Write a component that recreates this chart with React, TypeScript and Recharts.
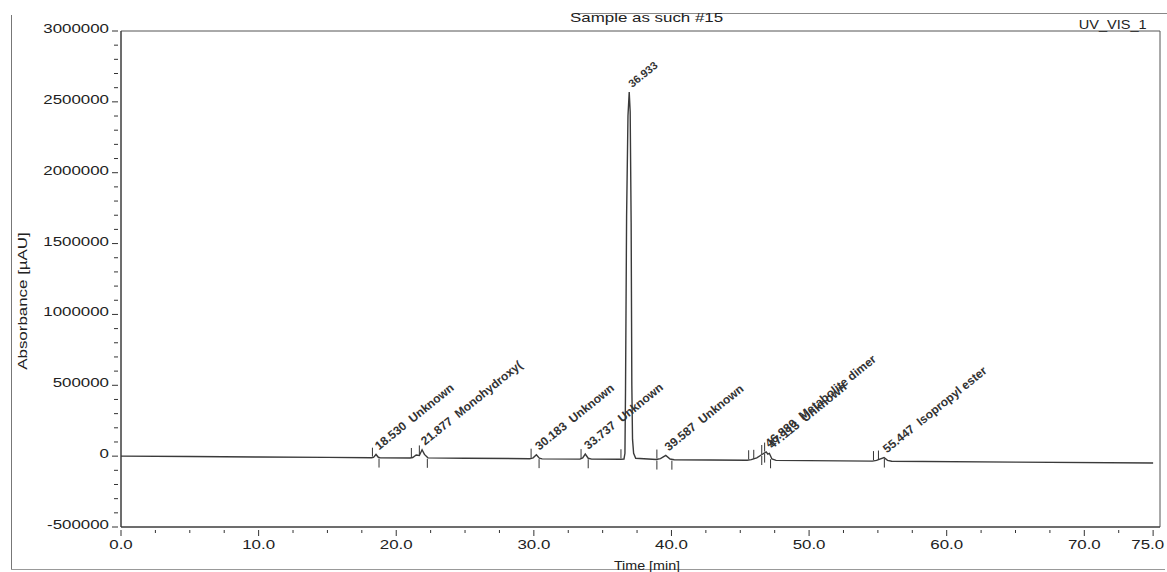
import { ComposedChart, Line, Scatter, XAxis, YAxis, ReferenceArea } from 'recharts';

// chromatogram trace (min, µAU)
const times = [
    0, 5, 10, 15, 18.2, 18.35, 18.53, 18.7, 18.85, 21.0, 21.2, 21.45, 21.68, 21.877, 22.05, 22.3,
    25, 29.7, 29.95, 30.183, 30.4, 30.6, 33.35, 33.55, 33.737, 33.95, 34.2, 36.3, 36.55, 36.62,
    36.66, 36.74, 36.84, 36.93, 37.0, 37.07, 37.12, 37.17, 37.25, 37.4, 38.9, 39.2, 39.587, 39.9,
    40.2, 45.5, 45.8, 46.2, 46.55, 46.88, 47.0, 47.113, 47.3, 47.6, 54.6, 54.9, 55.447, 55.7, 56,
    65, 75,
];
const absorbance = [
    0, -3000, -6000, -9000, -11000, -9000, 12000, -8000, -12000, -13000, -10000, 8000, 5000, 45000, 12000, -12000,
    -15000, -18000, -12000, 10000, -14000, -19000, -21000, -12000, 15000, -15000, -21000, -22000, -20000, 20000,
    450000, 1700000, 2400000, 2570000, 2430000, 1650000, 500000, 120000, 20000, -15000, -24000, -18000, 5000, -20000,
    -25000, -29000, -25000, -12000, 10000, 30000, 15000, 20000, -20000, -30000, -35000, -30000, -10000, -30000, -36000,
    -42000, -48000,
];

// peak annotations
const peakTimes = [18.53, 21.877, 30.183, 33.737, 36.933, 39.587, 46.88, 47.113, 55.447];
const peakLevels = [12000, 45000, 10000, 15000, 2570000, 5000, 30000, 20000, -10000];
const peakNames = [
    '18.530  Unknown',
    '21.877  Monohydroxy(',
    '30.183  Unknown',
    '33.737  Unknown',
    '36.933',
    '39.587  Unknown',
    '46.880  Metabolite dimer',
    '47.113  Unknown',
    '55.447  Isopropyl ester',
];

// integration markers (start above the trace, end below it)
const startTimes = [18.27, 21.1, 21.68, 29.8, 33.43, 36.33, 38.94, 45.61, 45.98, 46.56, 46.77, 54.68, 55.04];
const startLevels = [-11000, -13000, 5000, -18000, -21000, -22000, -24000, -29000, -26000, 8000, 25000, -35000, -31000];
const endTimes = [18.75, 22.26, 30.38, 33.95, 38.94, 40.03, 46.56, 46.77, 47.2, 55.47];
const endLevels = [-10000, -12000, -14000, -15000, -24000, -25000, 8000, 25000, -15000, -10000];

const xTicks = [
    0, 2.5, 5, 7.5, 10, 12.5, 15, 17.5, 20, 22.5, 25, 27.5, 30, 32.5, 35, 37.5,
    40, 42.5, 45, 47.5, 50, 52.5, 55, 57.5, 60, 62.5, 65, 67.5, 70, 72.5, 75,
];
const xLabelled = [0, 10, 20, 30, 40, 50, 60, 70, 75];
const yTicks = [
    -500000, -400000, -300000, -200000, -100000, 0, 100000, 200000, 300000, 400000, 500000,
    600000, 700000, 800000, 900000, 1000000, 1100000, 1200000, 1300000, 1400000, 1500000,
    1600000, 1700000, 1800000, 1900000, 2000000, 2100000, 2200000, 2300000, 2400000, 2500000,
    2600000, 2700000, 2800000, 2900000, 3000000,
];
const yLabelled = [-500000, 0, 500000, 1000000, 1500000, 2000000, 2500000, 3000000];

const FONT = '"Liberation Sans", Arial, sans-serif';
const INK = '#333';

// the scan is stretched sideways, so the axis text is too
const XTick = ({ x, y, payload }: any) => {
    const major = xLabelled.includes(payload.value);
    const last = payload.value === 75;
    return (
        <g>
            <line x1={x} x2={x} y1={y + 3} y2={y + (major ? 9 : 6)} stroke={INK} />
            {major && (
                <text
                    transform={`translate(${last ? x + 11 : x}, ${y + 22}) scale(1.3, 1)`}
                    textAnchor={last ? 'end' : 'middle'}
                    fontSize={13}
                    fill="#222"
                    fontFamily={FONT}
                >
                    {payload.value.toFixed(1)}
                </text>
            )}
        </g>
    );
};

const YTick = ({ x, y, payload }: any) => {
    const major = yLabelled.includes(payload.value);
    return (
        <g>
            <line x1={x - (major ? 9 : 7)} x2={x - 3} y1={y} y2={y} stroke={INK} />
            {major && (
                <text
                    transform={`translate(${x - 12}, ${y + 2}) scale(1.3, 1)`}
                    textAnchor="end"
                    fontSize={13}
                    fill="#222"
                    fontFamily={FONT}
                >
                    {payload.value}
                </text>
            )}
        </g>
    );
};

const PeakLabel = ({ cx, cy, payload }: any) => {
    const small = !payload.name.includes(' ');
    return (
        <text
            x={cx + 3}
            y={cy - 4}
            transform={`rotate(-39, ${cx + 3}, ${cy - 4})`}
            fontSize={small ? 11 : 12}
            fontWeight="bold"
            fill={INK}
            fontFamily={FONT}
            style={{ whiteSpace: 'pre' }}
        >
            {payload.name}
        </text>
    );
};

const StartMark = ({ cx, cy }: any) => <line x1={cx} x2={cx} y1={cy - 10} y2={cy - 1} stroke={INK} />;
const EndMark = ({ cx, cy }: any) => <line x1={cx} x2={cx} y1={cy + 1} y2={cy + 10} stroke={INK} />;

export default function App() {
    const trace = times.map((t, i) => ({ t, v: absorbance[i] }));
    const peaks = peakTimes.map((t, i) => ({ t, v: peakLevels[i], name: peakNames[i] }));
    const starts = startTimes.map((t, i) => ({ t, v: startLevels[i] }));
    const ends = endTimes.map((t, i) => ({ t, v: endLevels[i] }));

    return (
        <div style={{ position: 'absolute', left: 0, top: 0, width: 1167, height: 572, background: '#fff', fontFamily: FONT }}>
            {/* outer frame bits */}
            <div style={{ position: 'absolute', left: 11, top: 15, width: 1, height: 555, background: '#777' }} />
            <div style={{ position: 'absolute', left: 11, top: 569, width: 1154, height: 1, background: '#999' }} />
            <div style={{ position: 'absolute', left: 575, top: 13, width: 592, height: 1, background: '#888' }} />

            <div
                style={{
                    position: 'absolute',
                    left: 570,
                    top: 10,
                    fontSize: 13,
                    color: '#222',
                    whiteSpace: 'nowrap',
                    transform: 'scaleX(1.3)',
                    transformOrigin: 'left top',
                }}
            >
                Sample as such #15
            </div>
            <div
                style={{
                    position: 'absolute',
                    right: 20,
                    top: 17,
                    fontSize: 13,
                    color: '#222',
                    transform: 'scaleX(1.12)',
                    transformOrigin: 'right top',
                }}
            >
                UV_VIS_1
            </div>
            <div
                style={{
                    position: 'absolute',
                    left: 22,
                    top: 301,
                    fontSize: 13,
                    color: '#222',
                    whiteSpace: 'nowrap',
                    transform: 'translate(-50%, -50%) rotate(-90deg) scaleX(1.3)',
                }}
            >
                Absorbance [µAU]
            </div>
            <div
                style={{
                    position: 'absolute',
                    left: 647,
                    top: 565,
                    fontSize: 13,
                    color: '#222',
                    whiteSpace: 'nowrap',
                    transform: 'translate(-50%, -50%) scaleX(1.1)',
                }}
            >
                Time [min]
            </div>

            <div style={{ position: 'absolute', left: 0, top: 0 }}>
                <ComposedChart width={1167} height={572} margin={{ top: 31, right: 7, bottom: 15, left: 41 }}>
                    <XAxis
                        dataKey="t"
                        type="number"
                        domain={[0, 75.5]}
                        ticks={xTicks}
                        interval={0}
                        height={30}
                        tickSize={0}
                        tickMargin={0}
                        axisLine={{ stroke: INK }}
                        tick={<XTick />}
                        allowDataOverflow
                    />
                    <YAxis
                        dataKey="v"
                        type="number"
                        domain={[-500000, 3000000]}
                        ticks={yTicks}
                        interval={0}
                        width={80}
                        tickSize={0}
                        tickMargin={0}
                        axisLine={{ stroke: INK }}
                        tick={<YTick />}
                        allowDataOverflow
                    />
                    <ReferenceArea x1={0} x2={75.5} y1={-500000} y2={3000000} fill="none" stroke="#555" strokeWidth={1} />
                    <Line
                        data={trace}
                        dataKey="v"
                        type="linear"
                        stroke="#3a3a3a"
                        strokeWidth={1.4}
                        dot={false}
                        isAnimationActive={false}
                    />
                    <Scatter data={starts} dataKey="v" shape={<StartMark />} isAnimationActive={false} />
                    <Scatter data={ends} dataKey="v" shape={<EndMark />} isAnimationActive={false} />
                    <Scatter data={peaks} dataKey="v" shape={<PeakLabel />} isAnimationActive={false} />
                </ComposedChart>
            </div>
        </div>
    );
}
